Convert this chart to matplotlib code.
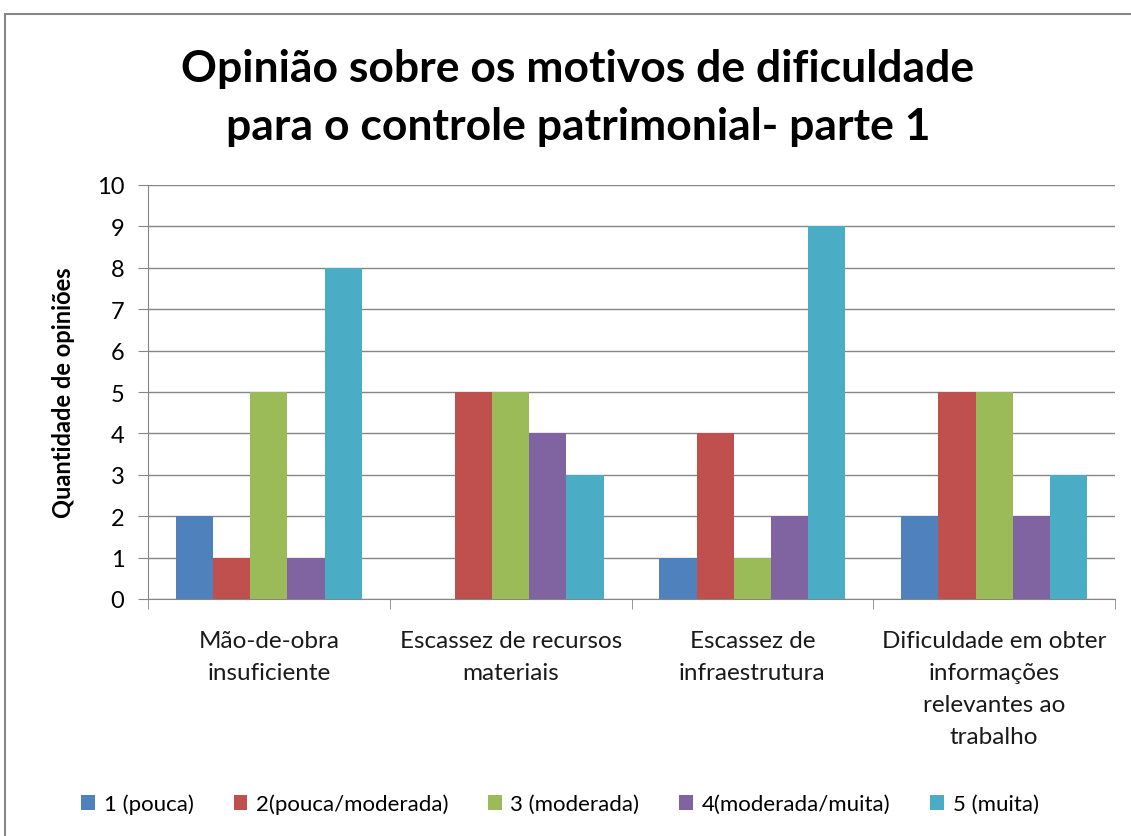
import numpy as np
import matplotlib.pyplot as plt
from matplotlib.patches import Rectangle
from matplotlib.ticker import MultipleLocator

categories = ["Mão-de-obra\ninsuficiente", "Escassez de recursos\nmateriais",
              "Escassez de\ninfraestrutura",
              "Dificuldade em obter\ninformações\nrelevantes ao\ntrabalho"]
series_names = ["1 (pouca)", "2(pouca/moderada)", "3 (moderada)",
                "4(moderada/muita)", "5 (muita)"]
values = [
    [2, 0, 1, 2],
    [1, 5, 4, 5],
    [5, 5, 1, 5],
    [1, 4, 2, 2],
    [8, 3, 9, 3],
]
colors = ["#4F81BD", "#C0504D", "#9BBB59", "#8064A2", "#4BACC6"]

plt.rcParams['font.family'] = ['Lato', 'DejaVu Sans']

fig = plt.figure(figsize=(11.31, 8.37), dpi=100)
fig.patches.append(Rectangle((5 / 1131, -0.1), 1.2, 1 - 15 / 837 + 0.1,
                             transform=fig.transFigure, fill=False,
                             edgecolor="#868686", linewidth=1.5))

ax = fig.add_axes([148 / 1131, 1 - 600 / 837, (1115 - 148) / 1131, (600 - 186) / 837])

x = np.arange(len(categories))
width = 1 / 6.5
for i, (name, vals) in enumerate(zip(series_names, values)):
    ax.bar(x + (i - 2) * width, vals, width, color=colors[i], label=name, zorder=3)

ax.set_xlim(-0.5, len(categories) - 0.5)
ax.set_ylim(0, 10)
ax.yaxis.set_major_locator(MultipleLocator(1))
ax.grid(axis='y', color="#868686", linewidth=1, zorder=0)

ax.set_xticks(x)
ax.set_xticklabels(categories, fontsize=17.5, linespacing=1.65, color="#1a1a1a")
ax.set_xticks(np.arange(-0.5, len(categories)), minor=True)
ax.tick_params(axis='x', which='major', length=0, pad=22)
ax.tick_params(axis='x', which='minor', length=7, color="#868686")
ax.tick_params(axis='y', length=7, color="#868686", labelsize=17, pad=10)

for s in ['top', 'right']:
    ax.spines[s].set_visible(False)
for s in ['left', 'bottom']:
    ax.spines[s].set_color("#868686")

ax.set_ylabel("Quantidade de opiniões", fontsize=17, fontweight='bold')
ax.yaxis.set_label_coords(-0.075, 0.5)

fig.text(578 / 1131, 1 - 98 / 837, "Opinião sobre os motivos de dificuldade\npara o controle patrimonial- parte 1",
         ha='center', va='center', fontsize=32, fontweight='bold', linespacing=1.55)

fig.legend(loc='center', bbox_to_anchor=(560 / 1131, 1 - 805 / 837), ncol=5,
           frameon=False, fontsize=16, handlelength=0.6, handleheight=0.6,
           handletextpad=0.4, columnspacing=1.8)

fig.savefig("out.png", dpi=100)
